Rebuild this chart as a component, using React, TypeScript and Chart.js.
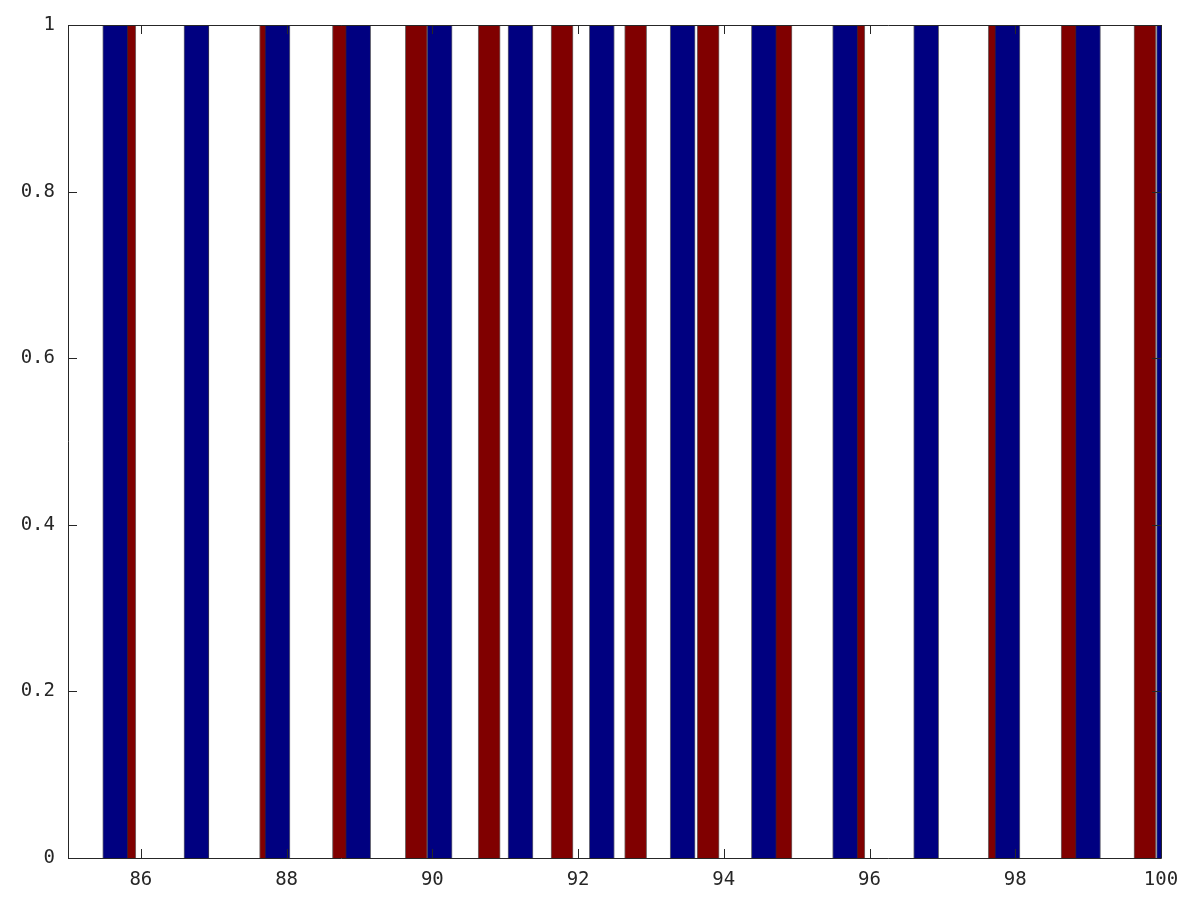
import React, { useEffect, useRef } from "react";
import { Chart, registerables } from "chart.js";

Chart.register(...registerables);

// Data
const RED_X = [85.78, 86.78, 87.78, 88.78, 89.78, 90.78, 91.78, 92.79, 93.785, 94.785, 95.785, 96.785, 97.78, 98.78, 99.78];
const RED_Y = [1, 1, 1, 1, 1, 1, 1, 1, 1, 1, 1, 1, 1, 1, 1];
const BLUE_X = [85.648, 86.763, 87.875, 88.982, 90.1, 91.21, 92.326, 93.435, 94.55, 95.665, 96.777, 97.893, 98.998, 100.11];
const BLUE_Y = [1, 1, 1, 1, 1, 1, 1, 1, 1, 1, 1, 1, 1, 1];
const X_TICKS = [86, 88, 90, 92, 94, 96, 98, 100];
const Y_TICKS = [0, 0.2, 0.4, 0.6, 0.8, 1];

const FONT = { family: "'DejaVu Sans Mono', monospace", size: 19 };

const framePlugin = {
  id: "frame",
  afterDatasetsDraw(chart: any) {
    const { ctx, chartArea } = chart;
    const { left, right, top, bottom } = chartArea;
    const xs = chart.scales.x;
    const ys = chart.scales.y;
    ctx.save();
    ctx.lineWidth = 1;
    ctx.strokeStyle = "#262626";
    const L = 9;
    ctx.beginPath();
    X_TICKS.forEach((v) => {
      const px = Math.round(xs.getPixelForValue(v)) + 0.5;
      ctx.moveTo(px, bottom);
      ctx.lineTo(px, bottom - L);
      ctx.moveTo(px, top);
      ctx.lineTo(px, top + L);
    });
    Y_TICKS.forEach((v) => {
      const py = Math.round(ys.getPixelForValue(v)) + 0.5;
      ctx.moveTo(left, py);
      ctx.lineTo(left + L, py);
      ctx.moveTo(right, py);
      ctx.lineTo(right - L, py);
    });
    ctx.stroke();
    ctx.strokeStyle = "#262626";
    ctx.beginPath();
    ctx.moveTo(Math.round(left) + 0.5, Math.round(top));
    ctx.lineTo(Math.round(left) + 0.5, Math.round(bottom) + 0.5);
    ctx.lineTo(Math.round(right) + 0.5, Math.round(bottom) + 0.5);
    ctx.lineTo(Math.round(right) + 0.5, Math.round(top) + 0.5);
    ctx.lineTo(Math.round(left) + 0.5, Math.round(top) + 0.5);
    ctx.stroke();
    ctx.restore();
  },
};

export default function App() {
  const ref = useRef<HTMLCanvasElement | null>(null);
  useEffect(() => {
    if (!ref.current) return;
    const chart = new Chart(ref.current, {
      type: "bar",
      data: {
        datasets: [
          {
            label: "blue",
            data: BLUE_X.map((x, i) => ({ x, y: BLUE_Y[i] })),
            backgroundColor: "#000080",
            borderColor: "rgba(40,40,60,0.7)",
            borderWidth: 1,
            barThickness: 25,
            grouped: false,
            order: 0,
          } as any,
          {
            label: "red",
            data: RED_X.map((x, i) => ({ x, y: RED_Y[i] })),
            backgroundColor: "#800000",
            borderColor: "rgba(60,40,40,0.7)",
            borderWidth: 1,
            barThickness: 22,
            grouped: false,
            order: 1,
          } as any,
        ],
      },
      options: {
        responsive: false,
        animation: false,
        layout: { padding: { top: 25, right: 39, left: 0, bottom: 0 } },
        plugins: { legend: { display: false }, tooltip: { enabled: false } },
        scales: {
          x: {
            type: "linear",
            min: 85,
            max: 100,
            offset: false,
            grid: { display: false, drawTicks: false },
            border: { display: false },
            afterBuildTicks: (s: any) => {
              s.ticks = X_TICKS.map((v) => ({ value: v }));
            },
            afterFit: (s: any) => {
              s.height = 42;
            },
            ticks: {
              font: FONT,
              color: "#262626",
              padding: 11,
              maxRotation: 0,
              autoSkip: false,
              callback: (v: any) => String(v),
            },
          },
          y: {
            type: "linear",
            min: 0,
            max: 1,
            grid: { display: false, drawTicks: false },
            border: { display: false },
            afterBuildTicks: (s: any) => {
              s.ticks = Y_TICKS.map((v) => ({ value: v }));
            },
            afterFit: (s: any) => {
              s.width = 68;
            },
            ticks: {
              font: FONT,
              color: "#262626",
              padding: 13,
              callback: (v: any) => String(Math.round(Number(v) * 10) / 10),
            },
          },
        },
      } as any,
      plugins: [framePlugin],
    });
    return () => chart.destroy();
  }, []);
  return (
    <div style={{ position: "fixed", left: 0, top: 0, width: 1200, height: 900, background: "#fff" }}>
      <canvas ref={ref} width={1200} height={900} style={{ display: "block" }} />
    </div>
  );
}
